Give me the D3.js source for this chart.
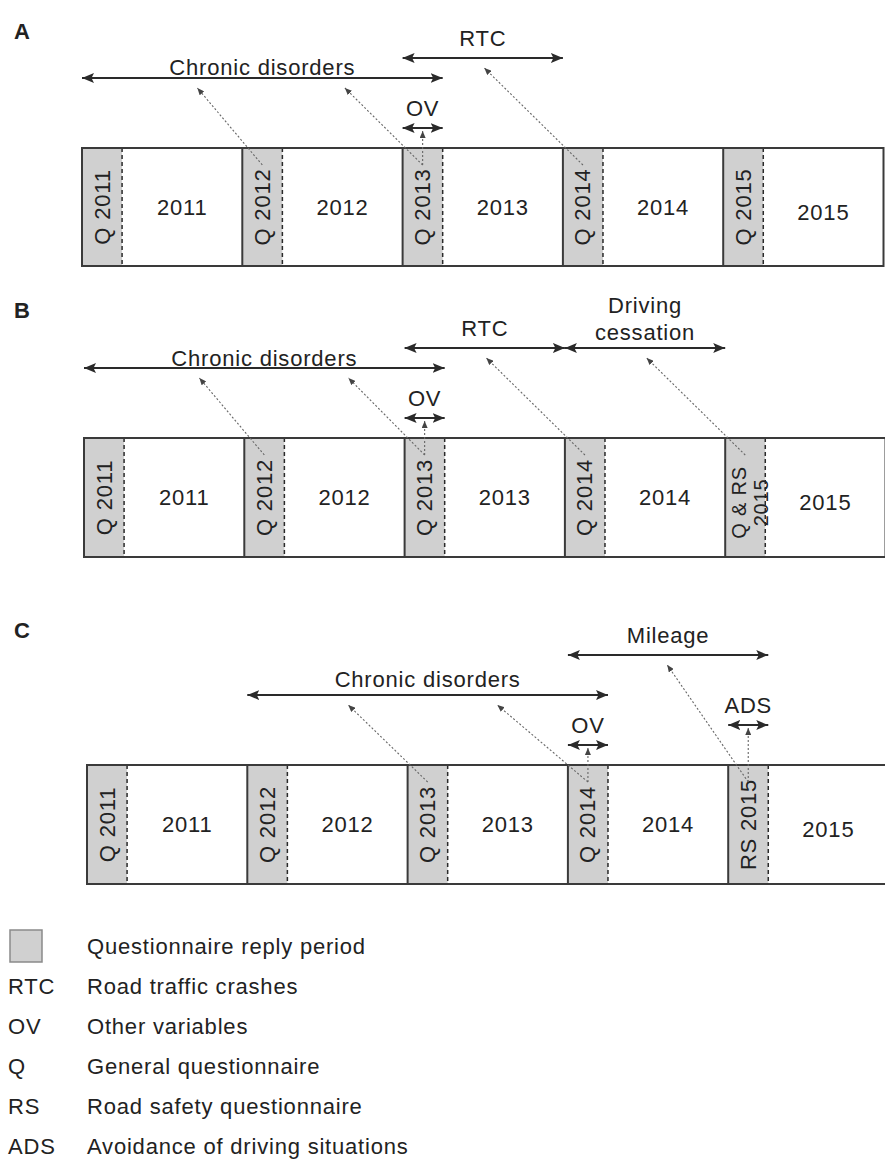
<!DOCTYPE html>
<html lang="en">
<head>
<meta charset="UTF-8">
<script src="https://cdnjs.cloudflare.com/ajax/libs/d3/7.8.5/d3.min.js"></script>
<style>
body{ margin:0; background:#fff; }
svg text{ font-family:"Liberation Sans", Arial, Helvetica, sans-serif; fill:#222; letter-spacing:0.8px; }
</style>
</head>
<body>
<div id="main-container"></div>
<script type="text/javascript">
/* global d3 */

// timeline content
const years = [2011, 2012, 2013, 2014, 2015];
const panelIds = ['A', 'B', 'C'];
const replyLength = 0.25; // questionnaire reply period, in years

const bandLabelsA = ['Q 2011', 'Q 2012', 'Q 2013', 'Q 2014', 'Q 2015'];
const bandLabelsB = ['Q 2011', 'Q 2012', 'Q 2013', 'Q 2014', 'Q & RS|2015'];
const bandLabelsC = ['Q 2011', 'Q 2012', 'Q 2013', 'Q 2014', 'RS 2015'];

// [label, start year, end year, lane]
const spansA = [['Chronic disorders', 2011, 2013.25, 2.5], ['RTC', 2013, 2014, 3.5], ['OV', 2013, 2013.25, 0]];
const spansB = [['Chronic disorders', 2011, 2013.25, 2.5], ['RTC', 2013, 2014, 3.5], ['Driving|cessation', 2014, 2015, 3.5], ['OV', 2013, 2013.25, 0]];
const spansC = [['Chronic disorders', 2012, 2014.25, 2.5], ['Mileage', 2014, 2015.25, 4.5], ['OV', 2014, 2014.25, 0], ['ADS', 2015, 2015.25, 1]];

// [questionnaire year, span it feeds, point on the span]
const linksA = [[2012, 'Chronic disorders', 2011.72], [2013, 'Chronic disorders', 2012.64], [2013, 'OV', 2013.125], [2014, 'RTC', 2013.51]];
const linksB = [[2012, 'Chronic disorders', 2011.72], [2013, 'Chronic disorders', 2012.65], [2013, 'OV', 2013.125], [2014, 'RTC', 2013.51], [2015, 'Driving|cessation', 2014.51]];
const linksC = [[2013, 'Chronic disorders', 2012.63], [2014, 'Chronic disorders', 2013.56], [2014, 'OV', 2014.125], [2015, 'Mileage', 2014.62], [2015, 'ADS', 2015.125]];

const legendKeys = ['', 'RTC', 'OV', 'Q', 'RS', 'ADS'];
const legendTexts = ['Questionnaire reply period', 'Road traffic crashes', 'Other variables', 'General questionnaire', 'Road safety questionnaire', 'Avoidance of driving situations'];

const panelData = {
  A: {bands: bandLabelsA, spans: spansA, links: linksA},
  B: {bands: bandLabelsB, spans: spansB, links: linksB},
  C: {bands: bandLabelsC, spans: spansC, links: linksC}
};

// layout
const w = 885, h = 1160;
const yearWidth = 160.3;
const layout = {
  A: {x0: 82, top: 148, bottom: 266, letterY: 39, chronicGap: 3},
  B: {x0: 84, top: 438, bottom: 557, letterY: 318, chronicGap: 2},
  C: {x0: 87, top: 765, bottom: 884, letterY: 638, chronicGap: 8}
};
const grey = '#d0d0d0';
const ink = '#2a2a2a';

const svg = d3.select('#main-container').append('svg').attr('width', w).attr('height', h);

const defs = svg.append('defs');
defs.append('marker').attr('id', 'headMain').attr('viewBox', '0 0 12 10')
  .attr('refX', 12).attr('refY', 5).attr('markerWidth', 12).attr('markerHeight', 10)
  .attr('markerUnits', 'userSpaceOnUse').attr('orient', 'auto-start-reverse')
  .append('path').attr('d', 'M0,0 L12,5 L0,10 L2.5,5 Z').attr('fill', ink);
defs.append('marker').attr('id', 'headPtr').attr('viewBox', '0 0 7 6')
  .attr('refX', 7).attr('refY', 3).attr('markerWidth', 7).attr('markerHeight', 6)
  .attr('markerUnits', 'userSpaceOnUse').attr('orient', 'auto')
  .append('path').attr('d', 'M0,0 L7,3 L0,6 Z').attr('fill', '#444');

panelIds.forEach(id => {
  const L = layout[id];
  const D = panelData[id];
  const x = d3.scaleLinear().domain([2011, 2016]).range([L.x0, L.x0 + 5 * yearWidth]);
  const lane = d3.scaleLinear().domain([0, 1]).range([L.top - 20, L.top - 40]);
  const midY = (L.top + L.bottom) / 2;
  const g = svg.append('g').attr('class', 'panel-' + id);

  g.append('text').attr('x', 14).attr('y', L.letterY).attr('font-size', 22).attr('font-weight', 'bold')
    .style('letter-spacing', '0px').text(id);

  // white box
  g.append('rect').attr('x', x(2011)).attr('y', L.top).attr('width', x(2016) - x(2011)).attr('height', L.bottom - L.top)
    .attr('fill', '#fff');

  // reply periods
  g.selectAll('rect.band').data(years).enter().append('rect').attr('class', 'band')
    .attr('x', d => x(d)).attr('y', L.top).attr('width', d => x(d + replyLength) - x(d)).attr('height', L.bottom - L.top)
    .attr('fill', grey);

  g.selectAll('line.dash').data(years).enter().append('line').attr('class', 'dash')
    .attr('x1', d => x(d + replyLength)).attr('x2', d => x(d + replyLength))
    .attr('y1', L.top).attr('y2', L.bottom)
    .attr('stroke', ink).attr('stroke-width', 1.5).attr('stroke-dasharray', '4,3');

  g.selectAll('line.year').data(years).enter().append('line').attr('class', 'year')
    .attr('x1', d => x(d)).attr('x2', d => x(d)).attr('y1', L.top).attr('y2', L.bottom)
    .attr('stroke', '#3a3a3a').attr('stroke-width', 2);

  g.append('rect').attr('x', x(2011)).attr('y', L.top).attr('width', x(2016) - x(2011)).attr('height', L.bottom - L.top)
    .attr('fill', 'none').attr('stroke', '#3a3a3a').attr('stroke-width', 2);

  // year labels
  g.selectAll('text.yr').data(years).enter().append('text').attr('class', 'yr')
    .attr('x', d => (x(d + replyLength) + x(d + 1)) / 2)
    .attr('y', d => midY + (d === 2015 ? 5 : 0))
    .attr('text-anchor', 'middle').attr('dominant-baseline', 'central').attr('font-size', 22)
    .text(d => d);

  // rotated questionnaire labels
  g.selectAll('text.q').data(years).enter().append('text').attr('class', 'q')
    .attr('transform', d => 'translate(' + x(d + replyLength / 2) + ',' + midY + ') rotate(-90)')
    .attr('text-anchor', 'middle').attr('dominant-baseline', 'central')
    .attr('font-size', (d, i) => D.bands[i].includes('|') ? 20 : 22)
    .each(function (d, i) {
      const parts = D.bands[i].split('|');
      const t = d3.select(this);
      if (parts.length === 1) { t.text(parts[0]); return; }
      t.attr('transform', 'translate(' + x(d + replyLength / 2) + ',' + (midY + 5) + ') rotate(-90)');
      parts.forEach((p, k) => t.append('tspan').attr('x', 0).attr('y', k === 0 ? -6 : 16).text(p));
    });

  // span arrows
  const spanY = {};
  D.spans.forEach(s => { spanY[s[0]] = lane(s[3]); });

  g.selectAll('line.span').data(D.spans).enter().append('line').attr('class', 'span')
    .attr('x1', d => x(d[1])).attr('x2', d => x(d[2]))
    .attr('y1', d => lane(d[3])).attr('y2', d => lane(d[3]))
    .attr('stroke', ink).attr('stroke-width', 2)
    .attr('marker-start', 'url(#headMain)').attr('marker-end', 'url(#headMain)');

  g.selectAll('text.span').data(D.spans).enter().append('text').attr('class', 'span')
    .attr('text-anchor', 'middle').attr('font-size', 22)
    .each(function (d) {
      const parts = d[0].split('|');
      const cx = (x(d[1]) + x(d[2])) / 2;
      const base = lane(d[3]) - (d[0] === 'Chronic disorders' ? L.chronicGap : 12) + (parts.length > 1 ? 4 : 0);
      parts.forEach((p, k) => d3.select(this).append('tspan').attr('x', cx)
        .attr('y', base - (parts.length - 1 - k) * 27).text(p));
    });

  // pointers from questionnaires to the variables
  g.selectAll('line.link').data(D.links).enter().append('line').attr('class', 'link')
    .attr('x1', d => x(d[0] + replyLength / 2)).attr('y1', L.top + 17)
    .attr('x2', d => x(d[2]))
    .attr('y2', d => spanY[d[1]] + (Math.abs(d[2] - (d[0] + replyLength / 2)) < 0.01 ? 3 : 10))
    .attr('stroke', '#666').attr('stroke-width', 1.1).attr('stroke-dasharray', '2,2')
    .attr('marker-end', 'url(#headPtr)');
});

// legend
const legend = svg.append('g').attr('class', 'legend');
const rowY = d3.scaleLinear().domain([0, 1]).range([954, 994]);
legend.append('rect').attr('x', 10).attr('y', 930).attr('width', 32).attr('height', 32)
  .attr('fill', grey).attr('stroke', '#8a8a8a').attr('stroke-width', 1.5);
legend.selectAll('text.key').data(legendKeys).enter().append('text').attr('class', 'key')
  .attr('x', 8).attr('y', (d, i) => rowY(i)).attr('font-size', 22).text(d => d);
legend.selectAll('text.desc').data(legendTexts).enter().append('text').attr('class', 'desc')
  .attr('x', 87).attr('y', (d, i) => rowY(i)).attr('font-size', 22).text(d => d);
</script>
</body>
</html>
